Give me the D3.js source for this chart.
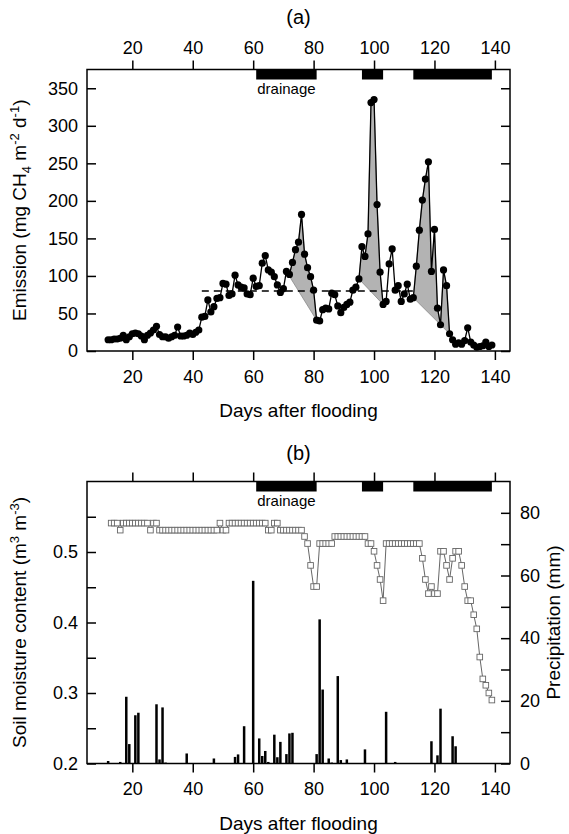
<!DOCTYPE html>
<html>
<head>
<meta charset="utf-8">
<script src="https://cdn.jsdelivr.net/npm/d3@7"></script>
<style>
body { margin: 0; background: #fff; }
svg text { font-family: "Liberation Sans", Arial, sans-serif; fill: #000; }
</style>
</head>
<body>
<div id="chart"></div>
<script>
// daily CH4 emission, first value is day 12
var emissionStart = 12;
var emission = [15, 15, 16, 16, 17, 21, 15, 19, 23, 24, 23, 20, 15, 21, 24, 28, 33, 22, 19, 19,
  17, 19, 21, 32, 20, 20, 21, 24, 22, 25, 28,
  45, 46, 68, 52, 59, 70, 71, 90, 89, 74, 76, 101, 88, 85, 84, 76, 75, 97, 86, 87,
  117, 127, 108, 105, 99, 88, 78, 83, 106, 102, 118, 135, 145, 182, 129, 111, 99, 81, 41, 40,
  55, 57, 56, 77, 75, 60, 51, 58, 62, 65, 81, 85, 96, 139, 126, 156, 331, 335, 195, 105, 62, 66,
  116, 136, 81, 87, 66, 76, 89, 69, 71, 113, 161, 201, 229, 252, 106, 162, 57, 35, 108, 87,
  23, 15, 9, 11, 9, 14, 31, 12, 8, 5, 6, 7, 12, 6, 8];

// shaded emission pulses (start day, end day)
var pulses = [[71, 81], [95, 103], [113, 125]];
var baselineValue = 80;
var baselineDays = [43, 113];

// drainage periods
var drainage = [[61, 81], [96, 103], [113, 139]];

// soil moisture, first value is day 13
var moistureStart = 13;
var moisture = [0.541, 0.541, 0.541, 0.531, 0.541, 0.541, 0.541, 0.541, 0.541, 0.541, 0.541, 0.541, 0.541,
  0.531, 0.541, 0.541,
  0.531, 0.531, 0.531, 0.531, 0.531, 0.531, 0.531, 0.531, 0.531, 0.531,
  0.531, 0.531, 0.531, 0.531, 0.531, 0.531, 0.531, 0.531, 0.531, 0.531,
  0.541, 0.531, 0.531,
  0.541, 0.541, 0.541, 0.541, 0.541, 0.541, 0.541, 0.541, 0.541, 0.541, 0.541, 0.541, 0.541,
  0.531, 0.531, 0.541, 0.541,
  0.531, 0.531, 0.531, 0.531, 0.531, 0.531, 0.531, 0.531,
  0.522, 0.512, 0.481, 0.451, 0.451,
  0.512, 0.512, 0.512, 0.512, 0.512,
  0.522, 0.522, 0.522, 0.522, 0.522, 0.522, 0.522, 0.522, 0.522, 0.522, 0.522,
  0.512, 0.512, 0.501, 0.481, 0.461, 0.431,
  0.512, 0.512, 0.512, 0.512, 0.512, 0.512, 0.512, 0.512, 0.512, 0.512, 0.512, 0.512,
  0.491, 0.461, 0.441, 0.451, 0.441, 0.441, 0.501, 0.501, 0.481, 0.461, 0.491, 0.501, 0.501,
  0.481, 0.451, 0.431, 0.431, 0.411, 0.391, 0.351, 0.320, 0.311, 0.300, 0.290];

// precipitation (mm)
var precipDays = [12, 16, 18, 19, 21, 22, 28, 29, 30, 31, 38, 47, 54, 55, 57, 60, 62, 63, 64, 65,
  67, 68, 69, 71, 72, 73, 81, 82, 83, 85, 86, 88, 89, 91, 97, 104, 107, 119, 121, 122, 126, 127];
var precipValues = [0.8, 0.5, 21.3, 6.2, 15.4, 16.2, 18.9, 1.3, 17.9, 0.3, 3.2, 1.6, 2.1, 2.9, 11.9, 58.3, 8, 2.4, 4, 0.5,
  9.2, 2, 6.9, 3, 9.6, 9.8, 3, 46, 23.6, 1.6, 0.3, 27.9, 1.1, 1.3, 4.5, 16.5, 0.5, 7.1, 2.6, 17.5, 8.7, 5.5];

// tick values
var dayTicks = [20, 40, 60, 80, 100, 120, 140];
var emissionTicks = [0, 50, 100, 150, 200, 250, 300, 350];
var moistureTicks = [0.2, 0.25, 0.3, 0.35, 0.4, 0.45, 0.5, 0.55];
var precipTicks = [0, 10, 20, 30, 40, 50, 60, 70, 80];

var width = 569;
var height = 834;

var svg = d3.select('#chart')
  .append('svg')
  .attr('width', width)
  .attr('height', height);

var xScale = d3.scaleLinear().domain([5, 145]).range([87, 510]);

var panelA = {top: 69.5, bottom: 351};
var panelB = {top: 481.5, bottom: 763.5};

var yEmission = d3.scaleLinear().domain([0, 375]).range([panelA.bottom, panelA.top]);
var yMoisture = d3.scaleLinear().domain([0.2, 0.6]).range([panelB.bottom, panelB.top]);
var yPrecip = d3.scaleLinear().domain([0, 90]).range([panelB.bottom, panelB.top]);

var emissionData = emission.map(function(v, i) { return {day: emissionStart + i, v: v}; });
var moistureData = moisture.map(function(v, i) { return {day: moistureStart + i, v: v}; });
var precipData = precipDays.map(function(d, i) { return {day: d, v: precipValues[i]}; });

function styleAxis(g) {
  g.select('.domain').remove();
  g.selectAll('.tick line').attr('stroke', '#000').attr('stroke-width', 1.5);
  g.selectAll('.tick text').style('font-size', '18px').style('font-family', '"Liberation Sans", Arial, sans-serif');
}

/*** shared pieces: frame, x axes, drainage bars ***/
function drawPanelFrame(panel, showTopLabels) {
  var g = svg.append('g');

  var top = d3.axisTop(xScale).tickValues(dayTicks).tickSize(9).tickPadding(7);
  if (!showTopLabels) top.tickFormat('');
  g.append('g').attr('transform', 'translate(0,' + panel.top + ')').call(top).call(styleAxis);

  var bottom = d3.axisBottom(xScale).tickValues(dayTicks).tickSize(9).tickPadding(10);
  g.append('g').attr('transform', 'translate(0,' + panel.bottom + ')').call(bottom).call(styleAxis);

  g.selectAll('.drain')
    .data(drainage)
    .enter().append('rect')
    .attr('x', function(d) { return xScale(d[0]); })
    .attr('width', function(d) { return xScale(d[1]) - xScale(d[0]); })
    .attr('y', panel.top)
    .attr('height', 10)
    .attr('fill', '#000');

  g.append('text')
    .attr('x', (xScale(drainage[0][0]) + xScale(drainage[0][1])) / 2)
    .attr('y', panel.top + 24)
    .attr('text-anchor', 'middle')
    .style('font-size', '15px')
    .text('drainage');

  g.append('rect')
    .attr('x', xScale(5))
    .attr('y', panel.top)
    .attr('width', xScale(145) - xScale(5))
    .attr('height', panel.bottom - panel.top)
    .attr('fill', 'none')
    .attr('stroke', '#000')
    .attr('stroke-width', 1.5);

  g.append('text')
    .attr('x', (xScale(5) + xScale(145)) / 2)
    .attr('y', panel.bottom + 66)
    .attr('text-anchor', 'middle')
    .style('font-size', '19px')
    .text('Days after flooding');
}

/*** panel (a) ***/
var gA = svg.append('g');

var lineA = d3.line().x(function(d) { return xScale(d.day); }).y(function(d) { return yEmission(d.v); });

pulses.forEach(function(p) {
  var pts = emissionData.filter(function(d) { return d.day >= p[0] && d.day <= p[1]; });
  gA.append('path')
    .attr('d', lineA(pts) + 'Z')
    .attr('fill', '#b3b3b3')
    .attr('stroke', '#8a8a8a')
    .attr('stroke-width', 0.8);
});

gA.append('path')
  .attr('d', lineA([{day: baselineDays[0], v: baselineValue}, {day: baselineDays[1], v: baselineValue}]))
  .attr('stroke', '#000')
  .attr('stroke-width', 1.5)
  .attr('stroke-dasharray', '7,5');

gA.append('path')
  .attr('d', lineA(emissionData))
  .attr('fill', 'none')
  .attr('stroke', '#000')
  .attr('stroke-width', 1.3);

gA.selectAll('circle')
  .data(emissionData)
  .enter().append('circle')
  .attr('cx', function(d) { return xScale(d.day); })
  .attr('cy', function(d) { return yEmission(d.v); })
  .attr('r', 3.6)
  .attr('fill', '#000');

drawPanelFrame(panelA, true);

var leftA = d3.axisLeft(yEmission).tickValues(emissionTicks).tickSizeInner(-9).tickSizeOuter(0).tickPadding(9);
svg.append('g').attr('transform', 'translate(' + xScale(5) + ',0)').call(leftA).call(styleAxis);
var rightA = d3.axisRight(yEmission).tickValues(emissionTicks).tickSizeInner(-9).tickSizeOuter(0).tickFormat('');
svg.append('g').attr('transform', 'translate(' + xScale(145) + ',0)').call(rightA).call(styleAxis);

svg.append('text')
  .attr('x', (xScale(5) + xScale(145)) / 2)
  .attr('y', 24)
  .attr('text-anchor', 'middle')
  .style('font-size', '20px')
  .text('(a)');

var titleA = svg.append('text')
  .attr('transform', 'translate(26,' + ((panelA.top + panelA.bottom) / 2) + ') rotate(-90)')
  .attr('text-anchor', 'middle')
  .style('font-size', '19px');
titleA.append('tspan').text('Emission (mg CH');
titleA.append('tspan').attr('dy', 5).style('font-size', '13px').text('4');
titleA.append('tspan').attr('dy', -5).text(' m');
titleA.append('tspan').attr('dy', -7).style('font-size', '13px').text('-2');
titleA.append('tspan').attr('dy', 7).text(' d');
titleA.append('tspan').attr('dy', -7).style('font-size', '13px').text('-1');
titleA.append('tspan').attr('dy', 7).text(')');

/*** panel (b) ***/
var gB = svg.append('g');

gB.selectAll('.bar')
  .data(precipData)
  .enter().append('rect')
  .attr('x', function(d) { return xScale(d.day) - 1.25; })
  .attr('width', 2.5)
  .attr('y', function(d) { return yPrecip(d.v); })
  .attr('height', function(d) { return yPrecip(0) - yPrecip(d.v); })
  .attr('fill', '#000');

var lineB = d3.line().x(function(d) { return xScale(d.day); }).y(function(d) { return yMoisture(d.v); });

gB.append('path')
  .attr('d', lineB(moistureData))
  .attr('fill', 'none')
  .attr('stroke', '#555')
  .attr('stroke-width', 0.9);

gB.selectAll('.sq')
  .data(moistureData)
  .enter().append('rect')
  .attr('x', function(d) { return xScale(d.day) - 2.8; })
  .attr('y', function(d) { return yMoisture(d.v) - 2.8; })
  .attr('width', 5.6)
  .attr('height', 5.6)
  .attr('fill', '#fff')
  .attr('stroke', '#666')
  .attr('stroke-width', 0.9);

drawPanelFrame(panelB, false);

var leftB = d3.axisLeft(yMoisture).tickValues(moistureTicks).tickSizeInner(-9).tickSizeOuter(0).tickPadding(9)
  .tickFormat(function(d) { return Math.round(d * 100) % 10 === 0 ? d3.format('.1f')(d) : ''; });
svg.append('g').attr('transform', 'translate(' + xScale(5) + ',0)').call(leftB).call(styleAxis);
var rightB = d3.axisRight(yPrecip).tickValues(precipTicks).tickSizeInner(-9).tickSizeOuter(0).tickPadding(10)
  .tickFormat(function(d) { return d % 20 === 0 ? d : ''; });
svg.append('g').attr('transform', 'translate(' + xScale(145) + ',0)').call(rightB).call(styleAxis);

svg.append('text')
  .attr('x', (xScale(5) + xScale(145)) / 2)
  .attr('y', 460)
  .attr('text-anchor', 'middle')
  .style('font-size', '20px')
  .text('(b)');

var titleB = svg.append('text')
  .attr('transform', 'translate(26,' + ((panelB.top + panelB.bottom) / 2) + ') rotate(-90)')
  .attr('text-anchor', 'middle')
  .style('font-size', '19px');
titleB.append('tspan').text('Soil moisture content (m');
titleB.append('tspan').attr('dy', -7).style('font-size', '13px').text('3');
titleB.append('tspan').attr('dy', 7).text(' m');
titleB.append('tspan').attr('dy', -7).style('font-size', '13px').text('-3');
titleB.append('tspan').attr('dy', 7).text(')');

svg.append('text')
  .attr('transform', 'translate(560,' + ((panelB.top + panelB.bottom) / 2) + ') rotate(-90)')
  .attr('text-anchor', 'middle')
  .style('font-size', '19px')
  .text('Precipitation (mm)');
</script>
</body>
</html>
